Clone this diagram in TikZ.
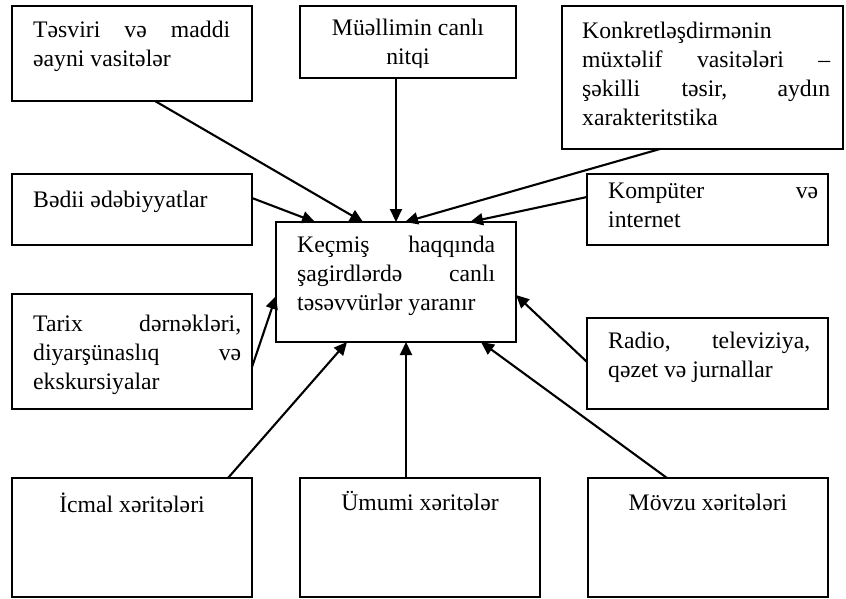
\documentclass[tikz,border=0pt]{standalone}
\usepackage{fontspec}
\setmainfont{Liberation Serif}
\usetikzlibrary{arrows.meta}
\newcommand\spreadline[2]{\makebox[#1][s]{#2}}
\begin{document}
\begin{tikzpicture}[x=1pt,y=-1pt,
  box/.style={draw,line width=2.4pt,inner sep=0pt,outer sep=0pt},
  % multi-line texts are placed by the baseline of their last line
  txt/.style={inner sep=0pt,anchor=base west,align=left,font=\fontsize{23.7}{29}\selectfont},
  ctxt/.style={inner sep=0pt,anchor=base,align=center,font=\fontsize{23.7}{29}\selectfont},
  link/.style={line width=2.1pt,-{Triangle[length=13pt,width=12pt]}}]
\useasboundingbox (0,0) rectangle (846,599);

% frames
\node[box,minimum width=240pt,minimum height=95pt]  (tsv) at (132,53.5)  {};
\node[box,minimum width=216pt,minimum height=72pt]  (mue) at (408,42)    {};
\node[box,minimum width=281pt,minimum height=143pt] (kon) at (702.5,77.5) {};
\node[box,minimum width=240pt,minimum height=71pt]  (bed) at (132,209.5) {};
\node[box,minimum width=241pt,minimum height=71pt]  (kom) at (707.5,209.5) {};
\node[box,minimum width=240pt,minimum height=120pt] (ctr) at (396,282)   {};
\node[box,minimum width=240pt,minimum height=115pt] (tar) at (132,351.5) {};
\node[box,minimum width=241pt,minimum height=91pt]  (rad) at (707.5,363.5) {};
\node[box,minimum width=240pt,minimum height=119pt] (icm) at (132,537.5) {};
\node[box,minimum width=240pt,minimum height=119pt] (umu) at (420,537.5) {};
\node[box,minimum width=240pt,minimum height=119pt] (mov) at (708,537.5) {};

% texts
\node[txt] (tsvT) at (33,67) {\spreadline{197pt}{Təsviri və maddi}\\əayni vasitələr};
\begin{scope}
  \clip (300,6) rectangle (516,68);
  \node[ctxt] (mueT) at (408,65) {Müəllimin canlı\\nitqi};
\end{scope}
\node[txt] (konT) at (582,126) {Konkretləşdirmənin\\\spreadline{248pt}{müxtəlif vasitələri –}\\\spreadline{248pt}{şəkilli təsir, aydın}\\xarakteritstika};
\node[txt] (bedT) at (33,207) {Bədii ədəbiyyatlar};
\node[txt] (komT) at (608,227) {\spreadline{210pt}{Kompüter və}\\internet};
\node[txt] (ctrT) at (297,310) {\spreadline{198pt}{Keçmiş haqqında}\\\spreadline{198pt}{şagirdlərdə canlı}\\təsəvvürlər yaranır};
\node[txt] (tarT) at (33,389) {\spreadline{208pt}{Tarix dərnəkləri,}\\\spreadline{208pt}{diyarşünaslıq və}\\ekskursiyalar};
\node[txt] (radT) at (608,377) {\spreadline{202pt}{Radio, televiziya,}\\qəzet və jurnallar};
\node[ctxt] (icmT) at (132,512) {İcmal xəritələri};
\node[ctxt] (umuT) at (420,510) {Ümumi xəritələr};
\node[ctxt] (movT) at (708,510) {Mövzu xəritələri};

% connectors into the central box
\draw[link] ([xshift=143pt]tsv.south west) -- ([xshift=87pt]ctr.north west);
\draw[link] ([yshift=-24pt]bed.north east) -- ([xshift=39pt]ctr.north west);
\draw[link] ([xshift=96pt]mue.south west) -- ([xshift=120pt]ctr.north west);
\draw[link] ([xshift=98pt]kon.south west) -- ([xshift=129pt]ctr.north west);
\draw[link] ([yshift=-23pt]kom.north west) -- ([xshift=194pt]ctr.north west);
\draw[link] ([yshift=-73pt]tar.north east) -- ([yshift=-74pt]ctr.north west);
\draw[link] ([yshift=-44pt]rad.north west) -- ([yshift=-73pt]ctr.north east);
\draw[link] ([xshift=216pt]icm.north west) -- ([xshift=71pt]ctr.south west);
\draw[link] ([xshift=106pt]umu.north west) -- ([xshift=130pt]ctr.south west);
\draw[link] ([xshift=79pt]mov.north west) -- ([xshift=205pt]ctr.south west);
\end{tikzpicture}
\end{document}
